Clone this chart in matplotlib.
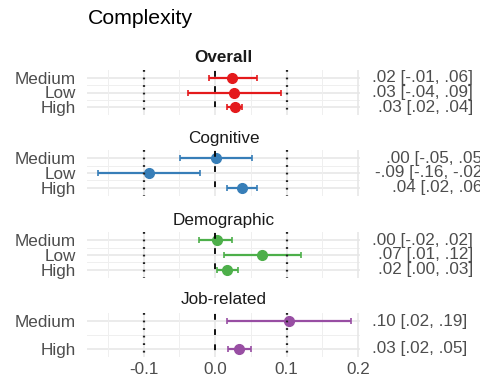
import matplotlib
matplotlib.use("Agg")
import matplotlib.pyplot as plt

plt.rcParams['font.family'] = ['Liberation Sans', 'DejaVu Sans']

# Estimates and 95% intervals per facet
panels = ["Overall", "Cognitive", "Demographic", "Job-related"]
overall_levels = ["Medium", "Low", "High"]
overall_est = [0.024, 0.027, 0.028]
overall_lo = [-0.008, -0.038, 0.017]
overall_hi = [0.058, 0.092, 0.038]

cognitive_levels = ["Medium", "Low", "High"]
cognitive_est = [0.001, -0.093, 0.038]
cognitive_lo = [-0.049, -0.164, 0.016]
cognitive_hi = [0.052, -0.021, 0.059]

demographic_levels = ["Medium", "Low", "High"]
demographic_est = [0.002, 0.066, 0.017]
demographic_lo = [-0.022, 0.012, 0.003]
demographic_hi = [0.024, 0.120, 0.032]

job_levels = ["Medium", "High"]
job_est = [0.103, 0.033]
job_lo = [0.016, 0.018]
job_hi = [0.190, 0.050]

colors = ["#E41A1C", "#377EB8", "#4DAF4A", "#984EA3"]
x_ticks = [-0.1, 0.0, 0.1, 0.2]
x_ticklabels = ["-0.1", "0.0", "0.1", "0.2"]

data = [
    (overall_levels, overall_est, overall_lo, overall_hi),
    (cognitive_levels, cognitive_est, cognitive_lo, cognitive_hi),
    (demographic_levels, demographic_est, demographic_lo, demographic_hi),
    (job_levels, job_est, job_lo, job_hi),
]


def fmt(v):
    s = f"{v:.2f}"
    if s.startswith("-0"):
        return "-" + s[2:]
    if s.startswith("0"):
        return s[1:]
    return s


W, H = 480, 384
fig = plt.figure(figsize=(W / 100, H / 100), dpi=100)

# pixel boxes (top, bottom) of each facet, its title centre, and the
# right edge of its estimate column
boxes = [(70, 115, 57, 473), (150, 196, 138, 487), (232, 278, 221, 473), (313, 357, 300, 467)]
x_left, x_right = 87, 360
XLIM = (-0.179, 0.2025)

fs = 12.3
gray = "#4D4D4D"

for i, (name, (levels, est, lo, hi), col, (top, bot, ty, tx)) in enumerate(
        zip(panels, data, colors, boxes)):
    ax = fig.add_axes([x_left / W, (H - bot) / H, (x_right - x_left) / W, (bot - top) / H])
    n = len(levels)
    ys = list(range(n, 0, -1))
    ylim = (0.45, 3.55) if n == 3 else (0.71, 2.29)
    ax.set_ylim(*ylim)
    ax.set_xlim(*XLIM)
    for s in ax.spines.values():
        s.set_visible(False)

    # grid
    for yv in ys:
        ax.axhline(yv, color="#e6e6e6", lw=1.1, zorder=0)
    for k in range(n - 1):
        ax.axhline(ys[k] - 0.5, color="#efefef", lw=0.7, zorder=0)
    for xv in x_ticks:
        ax.axvline(xv, color="#e6e6e6", lw=1.1, zorder=0)
    for xv in [-0.15, -0.05, 0.05, 0.15]:
        ax.axvline(xv, color="#efefef", lw=0.7, zorder=0)

    # intervals and points
    for yv, e, l, h in zip(ys, est, lo, hi):
        ax.errorbar([e], [yv], xerr=[[e - l], [h - e]], fmt="o", color=col,
                    ms=7, lw=1.6, capsize=2, capthick=1.2, zorder=3)

    # reference lines, drawn from the top of each facet down
    ax.plot([0.0, 0.0], [ylim[1] - 0.05, ylim[0]], color="black", lw=1.3,
            ls=(0, (3.2, 5.2)), zorder=4)
    for xv in (-0.1, 0.1):
        ax.plot([xv, xv], [ylim[1], ylim[0]], color="#222222", lw=1.6,
                ls=(0, (0.8, 2.6)), zorder=4)

    ax.set_yticks(ys)
    ax.set_yticklabels(levels, fontsize=fs, color=gray)
    ax.tick_params(axis="y", length=0, pad=8)
    if i == 3:
        ax.set_xticks(x_ticks)
        ax.set_xticklabels(x_ticklabels, fontsize=fs, color=gray)
        ax.tick_params(axis="x", length=0, pad=3.5)
    else:
        ax.set_xticks([])

    for yv, e, l, h in zip(ys, est, lo, hi):
        ax.annotate(f"{fmt(e)} [{fmt(l)}, {fmt(h)}]", xy=(1, yv),
                    xycoords=("axes fraction", "data"),
                    xytext=((tx - x_right) * 0.72, 0),
                    textcoords="offset points", ha="right", va="center",
                    fontsize=fs, color=gray, annotation_clip=False)

    fig.text((x_left + x_right) / 2 / W, (H - ty) / H, name, ha="center", va="center",
             fontsize=fs, color="#1a1a1a", fontweight="bold" if i == 0 else "normal")

fig.text(88 / W, (H - 18) / H, "Complexity", ha="left", va="center", fontsize=15.3, color="black")

fig.savefig("out.png", dpi=100)
